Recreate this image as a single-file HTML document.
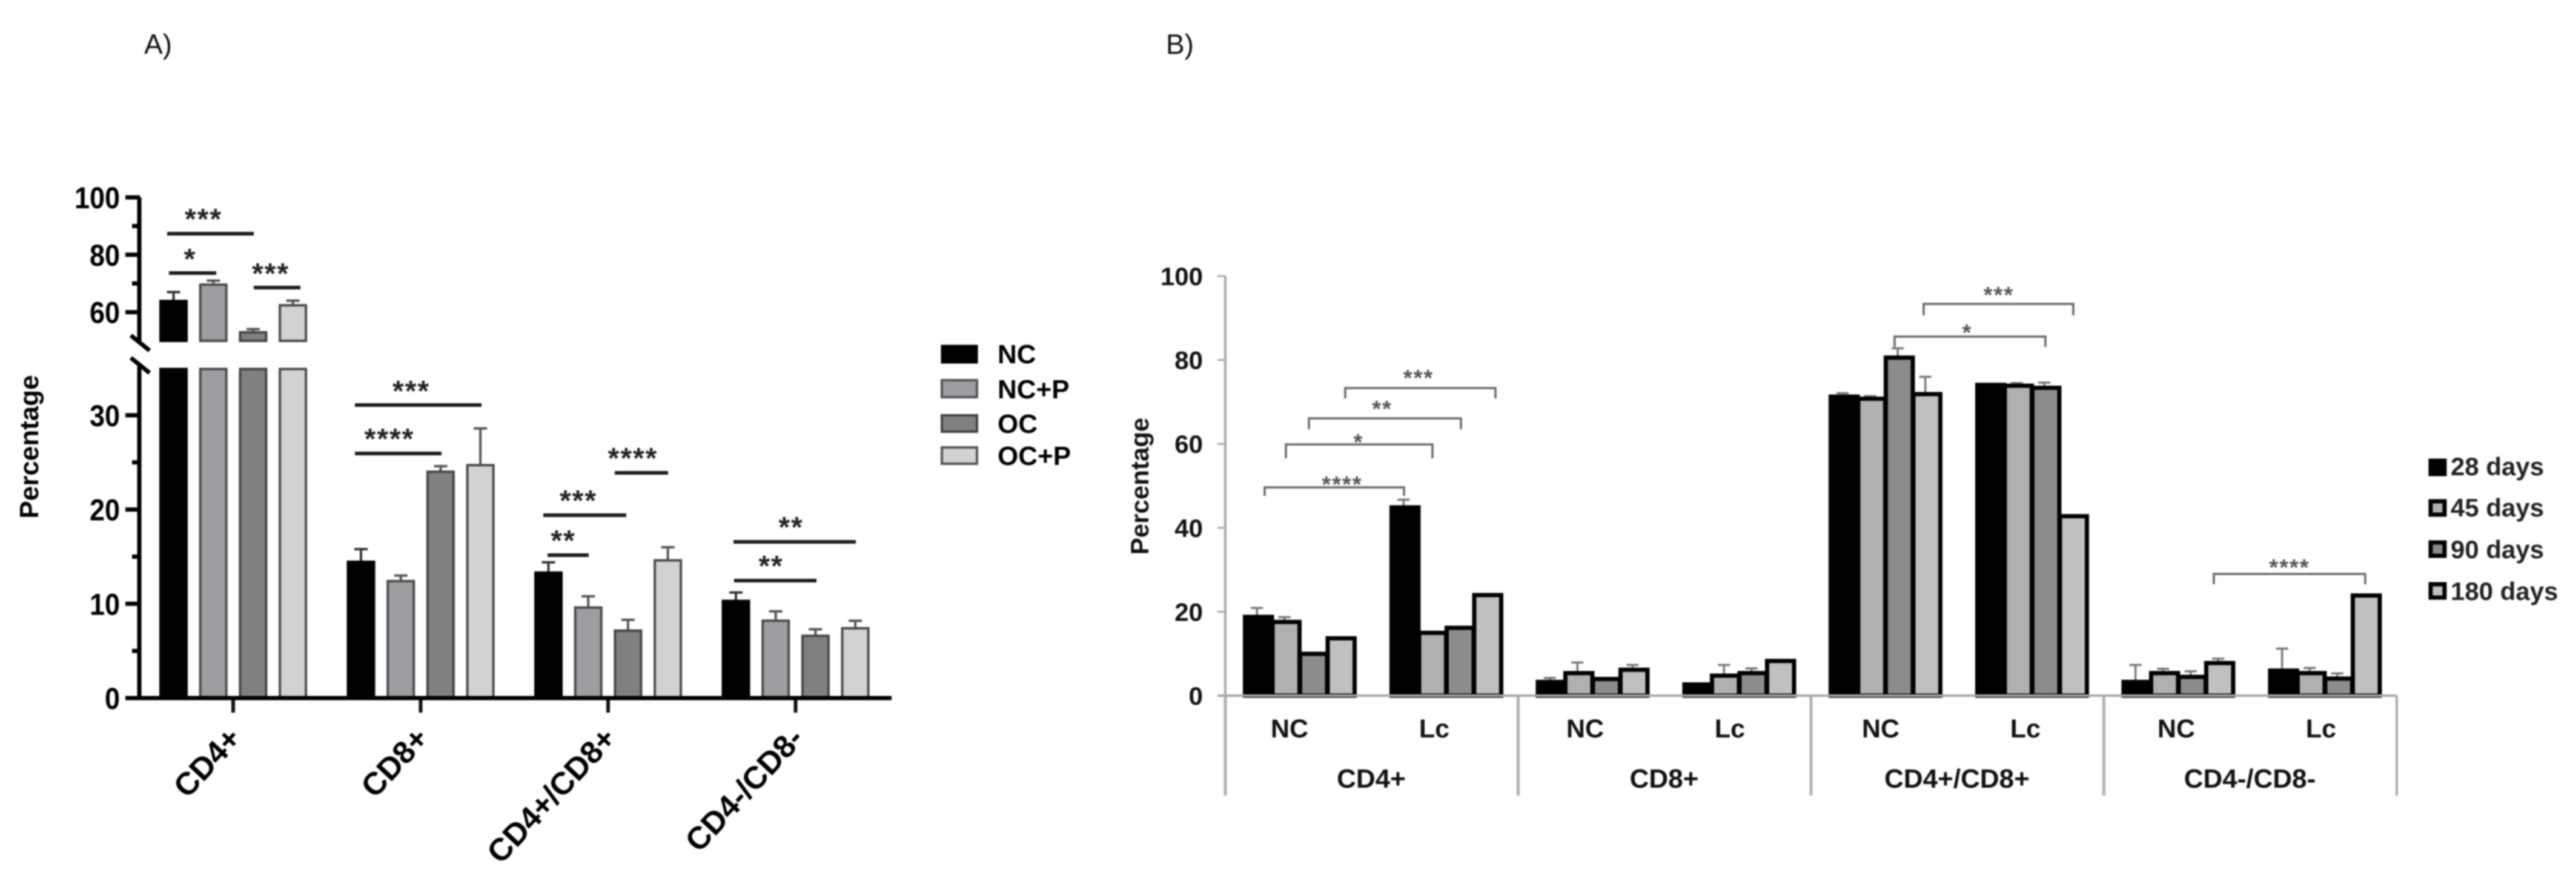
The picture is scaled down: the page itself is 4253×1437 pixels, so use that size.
<!DOCTYPE html>
<html lang="en">
<head>
<meta charset="utf-8">
<title>T-cell subset percentages</title>
<style>
html,body{margin:0;padding:0;background:#fff;width:4253px;height:1437px;overflow:hidden}
svg{display:block;filter:blur(1px)}
text{font-family:"Liberation Sans",sans-serif}
.b{font-weight:700}
.sa{font-weight:700;font-size:48px;fill:#222;text-anchor:middle;letter-spacing:2px;transform:translateY(-6px)}
.sb{font-weight:700;font-size:38px;fill:#555;text-anchor:middle;letter-spacing:2px;transform:translateY(-5px)}
.la{stroke:#1c1c1c;stroke-width:6;fill:none}
.br{stroke:#666;stroke-width:3.5;fill:none}
</style>
</head>
<body>
<svg id="figure" xmlns="http://www.w3.org/2000/svg" width="4253" height="1437" viewBox="0 0 4253 1437">
<rect width="4253" height="1437" fill="#fff"/>
<text x="238" y="89" font-size="46" fill="#111">A)</text>
<text x="1925" y="89" font-size="46" fill="#111">B)</text>

<g id="panelA"></g>
<g id="panelB"></g>

<g>
<path class="la" d="M276 386H419"/>
<text class="sa" x="336" y="384">***</text>
<path class="la" d="M279 451H357"/>
<text class="sa" x="314" y="450">*</text>
<path class="la" d="M419 475H496"/>
<text class="sa" x="447" y="474">***</text>
<path class="la" d="M586 669H795"/>
<text class="sa" x="679" y="668">***</text>
<path class="la" d="M586 749H729"/>
<text class="sa" x="643" y="747">****</text>
<path class="la" d="M897 851H1034"/>
<text class="sa" x="955" y="849">***</text>
<path class="la" d="M904 917H972"/>
<text class="sa" x="930" y="915">**</text>
<path class="la" d="M1015 781H1103"/>
<text class="sa" x="1045" y="779">****</text>
<path class="la" d="M1211 895H1413"/>
<text class="sa" x="1306" y="893">**</text>
<path class="la" d="M1212 959H1348"/>
<text class="sa" x="1273" y="957">**</text>
</g>

<g>
<rect x="1555" y="571" width="58" height="28" fill="#000" stroke="#000" stroke-width="3"/>
<text class="b" x="1647" y="600" font-size="44">NC</text>
<rect x="1555" y="628" width="58" height="28" fill="#9e9ea2" stroke="#555" stroke-width="4"/>
<text class="b" x="1647" y="658" font-size="44">NC+P</text>
<rect x="1555" y="686" width="58" height="27" fill="#808080" stroke="#444" stroke-width="4"/>
<text class="b" x="1647" y="715" font-size="44">OC</text>
<rect x="1555" y="739" width="58" height="27" fill="#d2d2d2" stroke="#555" stroke-width="4"/>
<text class="b" x="1647" y="768" font-size="44">OC+P</text>
</g>

<g>
<path class="br" d="M2088 819V805H2318V819"/>
<text class="sb" x="2216" y="818">****</text>
<path class="br" d="M2123 757V734H2365V757"/>
<text class="sb" x="2243" y="748">*</text>
<path class="br" d="M2161 709V691H2412V709"/>
<text class="sb" x="2282" y="693">**</text>
<path class="br" d="M2221 658V641H2469V658"/>
<text class="sb" x="2342" y="642">***</text>
<path class="br" d="M3128 573V556H3377V573"/>
<text class="sb" x="3248" y="567">*</text>
<path class="br" d="M3176 521V502H3423V521"/>
<text class="sb" x="3300" y="505">***</text>
<path class="br" d="M3655 965V948H3905V965"/>
<text class="sb" x="3780" y="955">****</text>
</g>

<g>
<rect x="4013" y="761" width="23" height="22" fill="#000" stroke="#000" stroke-width="7"/>
<text class="b" x="4046" y="785" font-size="42" fill="#222">28 days</text>
<rect x="4013" y="828" width="23" height="22" fill="#b0b0b0" stroke="#000" stroke-width="7"/>
<text class="b" x="4046" y="853" font-size="42" fill="#222">45 days</text>
<rect x="4013" y="896" width="23" height="22" fill="#8c8c8c" stroke="#000" stroke-width="7"/>
<text class="b" x="4046" y="922" font-size="42" fill="#222">90 days</text>
<rect x="4013" y="965" width="23" height="22" fill="#c0c0c0" stroke="#000" stroke-width="7"/>
<text class="b" x="4046" y="991" font-size="42" fill="#222">180 days</text>
</g>
</svg>

<script>
// ----- Panel A data -----
const aCategories = ["CD4+", "CD8+", "CD4+/CD8+", "CD4-/CD8-"];
const aSeriesNames = ["NC", "NC+P", "OC", "OC+P"];
const aNC = [64.2, 14.55, 13.4, 10.4];
const aNCP = [69.9, 12.5, 9.7, 8.3];
const aOC = [53.3, 24.1, 7.25, 6.7];
const aOCP = [62.7, 24.8, 14.7, 7.5];
const aNCErr = [2.8, 1.25, 1.0, 0.8];
const aNCPErr = [1.1, 0.5, 1.1, 0.9];
const aOCErr = [0.8, 0.5, 1.05, 0.6];
const aOCPErr = [1.3, 3.8, 1.3, 0.7];
const aMajorTicks = [0, 10, 20, 30, 60, 80, 100];
const aMinorTicks = [5, 15, 25, 70, 90];

// ----- Panel B data -----
const bCategories = ["CD4+", "CD8+", "CD4+/CD8+", "CD4-/CD8-"];
const bConditions = ["NC", "Lc"];
const bSeriesNames = ["28 days", "45 days", "90 days", "180 days"];
const b28 = [19.2, 45.3, 3.7, 3.1, 71.7, 74.5, 3.7, 6.4];
const b45 = [18.0, 15.4, 5.8, 5.2, 71.2, 74.3, 5.8, 5.8];
const b90 = [10.4, 16.6, 4.4, 5.8, 81.0, 73.8, 4.9, 4.5];
const b180 = [14.1, 24.4, 6.6, 8.7, 72.3, 43.2, 8.2, 24.3];
const b28Err = [1.7, 1.4, 0.5, 0, 0.4, 0, 3.6, 4.8];
const b45Err = [0.7, 0, 2.1, 2.1, 0.2, 0.2, 0.6, 0.8];
const b90Err = [0, 0, 0, 0.7, 1.8, 0.8, 0.9, 0.8];
const b180Err = [0, 0, 0.7, 0, 3.7, 0, 0.6, 0];
const bTicks = [0, 20, 40, 60, 80, 100];

const NS = "http://www.w3.org/2000/svg";
function make(tag, attrs, parent, txt) {
  const el = document.createElementNS(NS, tag);
  for (const k in attrs) el.setAttribute(k, attrs[k]);
  if (txt !== undefined) el.textContent = txt;
  parent.appendChild(el);
  return el;
}

// ----- Panel A axis functions -----
function yA(v) {
  if (v <= 35) return 1153 - v * (1153 - 608) / 35;
  return 563 - (v - 50) * (563 - 326) / 50;
}
function xAGroup(g) { return 263 + g * 309.5; }
function xABar(g, s) { return xAGroup(g) + s * 65.7; }
const A_BAR_W = 47;
const aValues = [aNC, aNCP, aOC, aOCP];
const aErrors = [aNCErr, aNCPErr, aOCErr, aOCPErr];
const aFills = ["#000000", "#9e9ea2", "#808080", "#d2d2d2"];
const aStrokes = ["#000000", "#4a4a4a", "#454545", "#4a4a4a"];

const pA = document.getElementById("panelA");
aCategories.forEach(function (cat, g) {
  aValues.forEach(function (series, s) {
    const v = series[g], err = aErrors[s][g];
    const x = xABar(g, s), cx = x + A_BAR_W / 2;
    const ew = make("path", {d: "M" + cx + " " + yA(v) + "V" + yA(v + err) + "M" + (cx - 11) + " " + yA(v + err) + "h22", stroke: s === 0 ? "#333" : "#555", "stroke-width": 4, fill: "none"}, pA);
    
    
    const parts = v > 35 ? [[0, 35], [50, v]] : [[0, v]];
    parts.forEach(function (p) {
      const top = yA(p[1]), bot = yA(p[0]);
      const sides = make("rect", {x: x + 2, y: top + 1.5, width: A_BAR_W - 4, height: bot - top - 1.5, fill: aFills[s], stroke: aStrokes[s], "stroke-width": 4}, pA);
      
      
    });
  });
  const tickX = xAGroup(g) + 122;
  const tk = make("rect", {x: tickX - 3, y: 1153, width: 6, height: 24, fill: "#111"}, pA);
  
  
  const lx = tickX + 16, ly = 1222;
  const lab = make("text", {x: lx, y: ly, "font-size": 52, "font-weight": 700, "text-anchor": "end", fill: "#000", transform: "rotate(-47 " + lx + " " + ly + ")"}, pA, cat);
  
  
});

const axA = make("path", {d: "M230 326V566M230 605V1156M207 1153H1472", stroke: "#000", "stroke-width": 7, fill: "none"}, pA);


const brk = make("path", {d: "M216 554L247 579M216 591L247 616", stroke: "#000", "stroke-width": 7, fill: "none"}, pA);


aMajorTicks.forEach(function (v) {
  const t = make("path", {d: "M207 " + yA(v) + "H231", stroke: "#000", "stroke-width": 7}, pA);
  
  
  const s = String(v);
  const l = make("text", {x: 198, y: yA(v) + 18, "font-size": 50, "font-weight": 700, "text-anchor": "end", textLength: 25 * s.length, lengthAdjust: "spacingAndGlyphs", fill: "#000"}, pA, s);
  
  
});
aMinorTicks.forEach(function (v) {
  const t = make("path", {d: "M218 " + yA(v) + "H231", stroke: "#000", "stroke-width": 7}, pA);
  
  
});
const yTitleA = make("text", {x: 63, y: 738, "font-size": 44, "font-weight": 700, "text-anchor": "middle", fill: "#000", transform: "rotate(-90 63 738)"}, pA, "Percentage");



// ----- Panel B axis functions -----
function yB(v) { return 1149 - v * 6.93; }
function xBDivider(g) { return 2023 + g * 483.5; }
function xBCluster(g, c) { return xBDivider(g) + 29.5 + c * 242; }
function xBBar(g, c, s) { return xBCluster(g, c) + s * 45.5; }
function xBCondLabel(g, c) { return 2129 + g * 488 + c * 239; }
const B_BAR_W = 45.5;
const bValues = [b28, b45, b90, b180];
const bErrors = [b28Err, b45Err, b90Err, b180Err];
const bFills = ["#000000", "#b0b0b0", "#8c8c8c", "#c0c0c0"];

const pB = document.getElementById("panelB");
bCategories.forEach(function (cat, g) {
  const div = make("path", {d: "M" + xBDivider(g) + " " + 1149 + "V1314", stroke: "#b0b0b0", "stroke-width": 5}, pB);
  
  
  bConditions.forEach(function (cond, c) {
    const idx = g * 2 + c;
    bValues.forEach(function (series, s) {
      const v = series[idx], err = bErrors[s][idx];
      const x = xBBar(g, c, s), cx = x + B_BAR_W / 2;
      if (err > 0) {
        const ew = make("path", {d: "M" + cx + " " + yB(v) + "V" + yB(v + err) + "M" + (cx - 10) + " " + yB(v + err) + "h20", stroke: "#777", "stroke-width": 3.5, fill: "none"}, pB);
        
        
      }
    });
    bValues.forEach(function (series, s) {
      const v = series[idx];
      const x = xBBar(g, c, s);
      const r = make("rect", {x: x + 3, y: yB(v) + 3, width: B_BAR_W - 1, height: v * 6.93 - 3, fill: bFills[s], stroke: "#000", "stroke-width": 7}, pB);
      
      
    });
    const cl = make("text", {x: xBCondLabel(g, c), y: 1218, "font-size": 43, "font-weight": 700, "text-anchor": "middle", fill: "#111"}, pB, cond);
    
    
  });
  const gl = make("text", {x: xBDivider(g) + 241, y: 1301, "font-size": 44, "font-weight": 700, "text-anchor": "middle", fill: "#111"}, pB, cat);
  
  
});
const lastDiv = make("path", {d: "M" + xBDivider(4) + " 1149V1314", stroke: "#aaa", "stroke-width": 4}, pB);


const axB = make("path", {d: "M2023 " + yB(100) + "V1149M2010 1149H3957", stroke: "#a8a8a8", "stroke-width": 4, fill: "none"}, pB);


bTicks.forEach(function (v) {
  const t = make("path", {d: "M2010 " + yB(v) + "H2023", stroke: "#a8a8a8", "stroke-width": 3}, pB);
  
  
  const l = make("text", {x: 1986, y: yB(v) + 15, "font-size": 42, "font-weight": 700, "text-anchor": "end", fill: "#111"}, pB, String(v));
  
  
});
const yTitleB = make("text", {x: 1896, y: 803, "font-size": 42, "font-weight": 700, "text-anchor": "middle", fill: "#111", transform: "rotate(-90 1896 803)"}, pB, "Percentage");


</script>
</body>
</html>
